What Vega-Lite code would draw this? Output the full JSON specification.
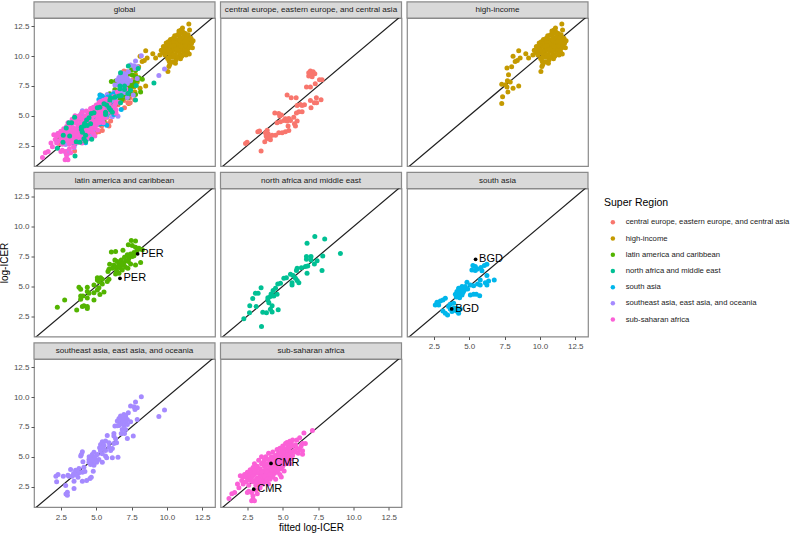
{"$schema":"https://vega.github.io/schema/vega-lite/v6.json","padding":{"left":-2,"top":0,"right":0,"bottom":0},"background":"white","bounds":"flush","columns":3,"spacing":{"row":22.5,"column":5.5},
"config":{"view":{"stroke":"#8a8a8a","strokeWidth":1.2,"fill":"white"},"range":{"category":["#F8766D","#C49A00","#53B400","#00C094","#00B6EB","#A58AFF","#FB61D7"]},"axis":{"domain":false,"grid":true,"gridColor":"#e6e6e6","gridWidth":1,"tickColor":"#555555","tickSize":3,"labelFont":"Liberation Sans","labelFontSize":8,"labelColor":"#4d4d4d","titleFont":"Liberation Sans","titleFontWeight":"normal","titleFontSize":10,"titleColor":"#000000","titlePadding":4,"labelPadding":2},"axisX":{"labelPadding":3,"titlePadding":1},"legend":{"orient":"none","legendX":570,"legendY":180,"titleFont":"Liberation Sans","titleFontWeight":"normal","titleFontSize":10.5,"titleColor":"#000000","titlePadding":10,"labelFont":"Liberation Sans","labelFontSize":7.7,"labelColor":"#1a1a1a","labelLimit":400,"symbolType":"circle","symbolSize":20,"symbolOffset":5,"rowPadding":7.2,"labelOffset":9},"text":{"font":"Liberation Sans"}},
"datasets":{
"diag":[{"v":0},{"v":14}],
"central":[{"x":6.96,"y":8.75},{"x":7.15,"y":8.69},{"x":6.84,"y":8.61},{"x":7.27,"y":8.53},{"x":7.0,"y":8.41},{"x":6.84,"y":8.33},{"x":7.08,"y":8.27},{"x":6.96,"y":8.53},{"x":7.6,"y":8.02},{"x":7.78,"y":8.02},{"x":7.3,"y":7.69},{"x":6.68,"y":7.4},{"x":6.96,"y":7.4},{"x":5.31,"y":6.73},{"x":5.6,"y":6.5},{"x":5.95,"y":6.5},{"x":7.38,"y":6.5},{"x":6.96,"y":6.28},{"x":7.71,"y":6.34},{"x":7.24,"y":6.09},{"x":7.4,"y":6.09},{"x":7.0,"y":5.67},{"x":6.02,"y":5.86},{"x":6.25,"y":5.95},{"x":6.54,"y":5.92},{"x":6.37,"y":5.86},{"x":6.14,"y":5.33},{"x":6.37,"y":5.33},{"x":5.97,"y":5.22},{"x":4.44,"y":5.22},{"x":4.72,"y":5.19},{"x":4.91,"y":5.05},{"x":4.79,"y":4.97},{"x":5.78,"y":4.88},{"x":5.19,"y":4.74},{"x":5.43,"y":4.77},{"x":5.08,"y":4.6},{"x":4.84,"y":4.49},{"x":4.6,"y":4.41},{"x":5.31,"y":4.55},{"x":5.55,"y":4.6},{"x":6.02,"y":4.55},{"x":5.83,"y":4.32},{"x":5.9,"y":4.13},{"x":5.38,"y":4.13},{"x":3.24,"y":3.65},{"x":3.36,"y":3.71},{"x":5.43,"y":3.76},{"x":5.19,"y":3.65},{"x":4.96,"y":3.57},{"x":4.72,"y":3.57},{"x":4.49,"y":3.37},{"x":4.25,"y":3.37},{"x":3.9,"y":3.79},{"x":3.78,"y":3.57},{"x":3.97,"y":3.48},{"x":3.83,"y":3.29},{"x":4.09,"y":3.2},{"x":3.9,"y":3.09},{"x":3.73,"y":2.81},{"x":4.13,"y":2.98},{"x":2.48,"y":2.78},{"x":2.37,"y":2.67},{"x":3.47,"y":2.03}],
"high":[{"x":11.55,"y":12.7},{"x":11.1,"y":12.36},{"x":11.6,"y":12.2},{"x":8.5,"y":10.45},{"x":8.1,"y":10.0},{"x":9.0,"y":10.2},{"x":8.6,"y":9.84},{"x":8.25,"y":9.56},{"x":8.4,"y":9.64},{"x":8.0,"y":9.1},{"x":7.67,"y":9.0},{"x":9.2,"y":9.84},{"x":10.07,"y":8.72},{"x":10.14,"y":9.14},{"x":10.2,"y":9.3},{"x":10.6,"y":9.4},{"x":10.96,"y":9.78},{"x":11.58,"y":10.17},{"x":7.78,"y":8.44},{"x":7.7,"y":7.93},{"x":7.3,"y":7.65},{"x":7.57,"y":7.6},{"x":7.9,"y":7.82},{"x":7.67,"y":7.4},{"x":8.1,"y":7.3},{"x":8.5,"y":7.5},{"x":7.74,"y":7.0},{"x":7.36,"y":6.6},{"x":7.3,"y":6.03},{"x":9.5,"y":10.1},{"x":9.6,"y":10.5},{"x":9.7,"y":10.3},{"x":9.75,"y":10.8},{"x":9.85,"y":10.1},{"x":9.9,"y":10.6},{"x":9.95,"y":11.1},{"x":10.0,"y":10.3},{"x":10.0,"y":10.8},{"x":10.05,"y":9.8},{"x":10.1,"y":10.5},{"x":10.1,"y":11.2},{"x":10.15,"y":9.6},{"x":10.2,"y":10.1},{"x":10.2,"y":10.9},{"x":10.25,"y":11.4},{"x":10.3,"y":9.9},{"x":10.3,"y":10.5},{"x":10.35,"y":11.1},{"x":10.4,"y":9.5},{"x":10.4,"y":10.2},{"x":10.4,"y":10.8},{"x":10.45,"y":11.5},{"x":10.5,"y":9.9},{"x":10.5,"y":10.5},{"x":10.5,"y":11.2},{"x":10.55,"y":11.7},{"x":10.6,"y":10.1},{"x":10.6,"y":10.8},{"x":10.65,"y":11.4},{"x":10.65,"y":9.7},{"x":10.7,"y":10.4},{"x":10.7,"y":11.0},{"x":10.75,"y":11.8},{"x":10.8,"y":9.9},{"x":10.8,"y":10.7},{"x":10.8,"y":11.3},{"x":10.85,"y":12.1},{"x":10.9,"y":10.2},{"x":10.9,"y":10.9},{"x":10.9,"y":11.6},{"x":10.95,"y":11.9},{"x":11.0,"y":10.5},{"x":11.0,"y":11.2},{"x":11.0,"y":12.2},{"x":11.05,"y":10.0},{"x":11.1,"y":10.8},{"x":11.1,"y":11.5},{"x":11.15,"y":12.0},{"x":11.2,"y":10.3},{"x":11.2,"y":11.0},{"x":11.2,"y":11.7},{"x":11.25,"y":10.6},{"x":11.3,"y":11.3},{"x":11.3,"y":11.9},{"x":11.35,"y":10.1},{"x":11.4,"y":10.8},{"x":11.4,"y":11.5},{"x":11.45,"y":10.4},{"x":11.5,"y":11.1},{"x":11.5,"y":11.8},{"x":11.55,"y":10.7},{"x":11.6,"y":11.3},{"x":11.65,"y":10.9},{"x":11.7,"y":11.5},{"x":11.75,"y":11.1},{"x":11.85,"y":11.3},{"x":11.8,"y":10.7},{"x":10.3,"y":10.8},{"x":10.6,"y":11.1},{"x":10.8,"y":11.0},{"x":10.9,"y":11.3},{"x":11.1,"y":11.1},{"x":10.7,"y":10.6},{"x":10.5,"y":10.9},{"x":11.0,"y":10.8},{"x":11.3,"y":10.9},{"x":10.2,"y":10.4},{"x":10.0,"y":10.5},{"x":9.8,"y":10.5},{"x":11.25,"y":11.2},{"x":11.4,"y":11.2}],
"latin":[{"x":7.48,"y":8.83},{"x":7.78,"y":8.8},{"x":7.27,"y":8.47},{"x":7.55,"y":8.41},{"x":6.07,"y":7.88},{"x":6.37,"y":7.91},{"x":6.89,"y":8.02},{"x":7.78,"y":8.27},{"x":8.02,"y":8.19},{"x":8.26,"y":8.05},{"x":7.9,"y":8.0},{"x":7.67,"y":7.83},{"x":7.43,"y":7.71},{"x":7.2,"y":7.63},{"x":7.55,"y":7.49},{"x":7.31,"y":7.35},{"x":7.0,"y":7.43},{"x":6.77,"y":7.21},{"x":7.08,"y":7.13},{"x":6.49,"y":7.07},{"x":6.32,"y":7.21},{"x":5.95,"y":6.84},{"x":6.61,"y":6.87},{"x":6.91,"y":6.93},{"x":7.43,"y":6.87},{"x":7.78,"y":6.79},{"x":8.14,"y":6.98},{"x":6.25,"y":6.79},{"x":5.9,"y":6.42},{"x":6.14,"y":6.51},{"x":6.37,"y":6.59},{"x":6.72,"y":6.51},{"x":7.08,"y":6.59},{"x":5.83,"y":6.23},{"x":6.44,"y":6.31},{"x":6.84,"y":6.37},{"x":6.61,"y":6.09},{"x":6.37,"y":6.03},{"x":7.24,"y":6.51},{"x":6.96,"y":6.79},{"x":6.68,"y":6.7},{"x":7.27,"y":7.07},{"x":6.8,"y":6.85},{"x":6.54,"y":6.65},{"x":7.67,"y":7.55},{"x":5.08,"y":5.72},{"x":5.31,"y":5.72},{"x":5.43,"y":5.58},{"x":5.08,"y":5.53},{"x":5.19,"y":5.39},{"x":5.9,"y":5.58},{"x":5.78,"y":5.39},{"x":4.84,"y":5.11},{"x":5.43,"y":5.19},{"x":3.78,"y":4.91},{"x":3.9,"y":4.74},{"x":4.37,"y":4.91},{"x":4.37,"y":4.55},{"x":5.19,"y":4.88},{"x":5.08,"y":4.69},{"x":4.84,"y":4.46},{"x":5.55,"y":4.52},{"x":5.26,"y":4.3},{"x":3.9,"y":4.18},{"x":4.06,"y":4.18},{"x":3.9,"y":3.9},{"x":4.37,"y":4.02},{"x":4.49,"y":4.41},{"x":4.84,"y":3.85},{"x":2.77,"y":3.85},{"x":2.25,"y":3.23},{"x":3.62,"y":3.0},{"x":4.02,"y":3.29},{"x":4.13,"y":3.37},{"x":4.37,"y":3.29},{"x":4.37,"y":3.12}],
"nafrica":[{"x":7.27,"y":9.17},{"x":7.97,"y":8.97},{"x":6.72,"y":8.61},{"x":9.08,"y":7.74},{"x":6.68,"y":7.49},{"x":7.0,"y":7.49},{"x":6.68,"y":7.26},{"x":7.0,"y":7.21},{"x":7.83,"y":7.54},{"x":7.43,"y":7.13},{"x":7.24,"y":6.87},{"x":6.77,"y":6.7},{"x":6.61,"y":6.65},{"x":6.32,"y":6.54},{"x":6.02,"y":6.51},{"x":5.97,"y":6.31},{"x":7.78,"y":6.31},{"x":6.72,"y":6.09},{"x":5.74,"y":5.89},{"x":5.55,"y":6.0},{"x":5.26,"y":5.72},{"x":5.08,"y":5.67},{"x":5.9,"y":5.67},{"x":5.66,"y":5.3},{"x":5.66,"y":5.11},{"x":6.02,"y":5.47},{"x":6.14,"y":5.3},{"x":4.84,"y":5.25},{"x":4.65,"y":5.19},{"x":4.49,"y":4.83},{"x":4.32,"y":4.63},{"x":4.18,"y":4.35},{"x":4.6,"y":4.32},{"x":4.37,"y":4.18},{"x":4.13,"y":4.13},{"x":3.47,"y":4.88},{"x":3.07,"y":4.41},{"x":3.26,"y":4.41},{"x":2.88,"y":3.96},{"x":3.95,"y":4.04},{"x":4.02,"y":3.62},{"x":3.95,"y":3.85},{"x":3.12,"y":3.29},{"x":2.67,"y":3.37},{"x":4.25,"y":3.37},{"x":4.68,"y":3.03},{"x":4.13,"y":3.06},{"x":4.25,"y":2.84},{"x":3.85,"y":2.78},{"x":3.59,"y":2.81},{"x":2.65,"y":2.78},{"x":2.25,"y":2.28},{"x":3.5,"y":1.61}],
"sasia":[{"x":5.26,"y":6.73},{"x":5.43,"y":6.65},{"x":5.19,"y":6.37},{"x":5.43,"y":6.31},{"x":5.59,"y":6.45},{"x":5.83,"y":6.57},{"x":6.07,"y":6.73},{"x":6.25,"y":6.85},{"x":5.9,"y":6.29},{"x":6.25,"y":5.89},{"x":5.78,"y":5.53},{"x":6.37,"y":5.44},{"x":6.14,"y":5.3},{"x":6.77,"y":5.53},{"x":5.59,"y":5.19},{"x":6.25,"y":5.11},{"x":5.78,"y":5.11},{"x":4.84,"y":5.33},{"x":5.08,"y":5.11},{"x":5.31,"y":5.03},{"x":4.49,"y":4.97},{"x":4.72,"y":4.97},{"x":4.25,"y":4.83},{"x":4.49,"y":4.69},{"x":4.72,"y":4.74},{"x":4.89,"y":4.77},{"x":4.13,"y":4.55},{"x":4.32,"y":4.49},{"x":4.56,"y":4.47},{"x":4.02,"y":4.32},{"x":4.25,"y":4.27},{"x":4.49,"y":4.27},{"x":4.09,"y":4.1},{"x":4.32,"y":4.04},{"x":5.31,"y":4.32},{"x":5.08,"y":4.27},{"x":5.5,"y":4.32},{"x":5.74,"y":4.21},{"x":3.31,"y":3.99},{"x":3.14,"y":3.85},{"x":2.96,"y":3.76},{"x":2.72,"y":3.65},{"x":2.6,"y":3.43},{"x":2.84,"y":3.43},{"x":3.66,"y":3.48},{"x":3.9,"y":3.57},{"x":3.54,"y":3.29},{"x":4.13,"y":3.15},{"x":3.14,"y":2.92},{"x":3.31,"y":2.73},{"x":3.47,"y":2.59},{"x":3.78,"y":2.87},{"x":4.09,"y":2.92},{"x":4.25,"y":2.73},{"x":4.37,"y":3.09},{"x":3.9,"y":3.15},{"x":3.66,"y":3.09},{"x":4.6,"y":4.85},{"x":4.4,"y":4.6},{"x":4.2,"y":4.4},{"x":4.35,"y":4.75},{"x":4.6,"y":4.6}],
"seasia":[{"x":8.19,"y":10.03},{"x":7.78,"y":9.59},{"x":7.43,"y":9.25},{"x":7.67,"y":9.19},{"x":7.9,"y":9.11},{"x":7.74,"y":8.97},{"x":9.83,"y":8.91},{"x":9.43,"y":8.38},{"x":7.27,"y":8.69},{"x":6.96,"y":8.55},{"x":6.72,"y":8.41},{"x":7.08,"y":8.41},{"x":6.61,"y":8.21},{"x":6.84,"y":8.13},{"x":7.2,"y":8.13},{"x":7.9,"y":8.13},{"x":6.49,"y":7.99},{"x":6.77,"y":7.85},{"x":7.08,"y":7.93},{"x":7.43,"y":7.93},{"x":6.32,"y":7.57},{"x":6.61,"y":7.62},{"x":6.96,"y":7.62},{"x":7.2,"y":7.71},{"x":6.84,"y":7.29},{"x":7.08,"y":7.29},{"x":6.77,"y":6.95},{"x":7.0,"y":6.95},{"x":6.25,"y":6.95},{"x":5.78,"y":6.78},{"x":6.25,"y":6.73},{"x":7.62,"y":6.73},{"x":7.2,"y":6.53},{"x":6.37,"y":6.5},{"x":5.43,"y":6.25},{"x":5.66,"y":6.31},{"x":5.9,"y":6.17},{"x":6.25,"y":6.11},{"x":6.44,"y":6.17},{"x":5.31,"y":6.03},{"x":5.55,"y":5.97},{"x":5.9,"y":5.8},{"x":6.14,"y":5.69},{"x":5.24,"y":5.75},{"x":6.02,"y":5.52},{"x":5.66,"y":5.52},{"x":4.84,"y":5.38},{"x":4.02,"y":5.41},{"x":3.95,"y":5.19},{"x":3.9,"y":5.05},{"x":4.72,"y":5.19},{"x":5.08,"y":5.19},{"x":5.43,"y":5.24},{"x":5.66,"y":5.05},{"x":6.14,"y":4.91},{"x":6.54,"y":4.96},{"x":5.74,"y":4.91},{"x":4.72,"y":4.91},{"x":4.49,"y":4.77},{"x":4.91,"y":4.77},{"x":5.19,"y":4.77},{"x":4.06,"y":4.57},{"x":4.49,"y":4.54},{"x":4.72,"y":4.49},{"x":5.03,"y":4.54},{"x":5.43,"y":4.54},{"x":4.6,"y":4.35},{"x":4.84,"y":4.29},{"x":4.13,"y":4.12},{"x":3.78,"y":4.01},{"x":3.19,"y":3.93},{"x":3.54,"y":3.87},{"x":4.79,"y":3.79},{"x":4.02,"y":3.7},{"x":3.78,"y":3.65},{"x":3.54,"y":3.51},{"x":3.31,"y":3.37},{"x":3.07,"y":3.37},{"x":2.67,"y":3.37},{"x":2.3,"y":3.51},{"x":2.15,"y":3.37},{"x":2.2,"y":2.89},{"x":3.43,"y":2.95},{"x":3.71,"y":3.28},{"x":4.02,"y":2.95},{"x":4.32,"y":3.0},{"x":4.56,"y":3.17},{"x":4.65,"y":3.28},{"x":2.84,"y":2.58},{"x":3.43,"y":2.33},{"x":2.96,"y":2.02},{"x":2.96,"y":1.77},{"x":2.86,"y":1.88},{"x":6.5,"y":7.6},{"x":6.7,"y":7.75},{"x":6.9,"y":8.0},{"x":7.0,"y":8.2},{"x":5.5,"y":5.7},{"x":5.3,"y":5.5},{"x":4.9,"y":4.95},{"x":4.7,"y":4.7},{"x":4.5,"y":5.0},{"x":3.4,"y":3.6},{"x":3.0,"y":3.45},{"x":4.2,"y":3.75}],
"ssa":[{"x":1.2,"y":1.5},{"x":1.4,"y":1.9},{"x":1.6,"y":2.0},{"x":1.8,"y":2.7},{"x":1.9,"y":2.4},{"x":2.0,"y":3.4},{"x":2.1,"y":3.0},{"x":2.2,"y":2.7},{"x":2.3,"y":3.5},{"x":2.2,"y":3.3},{"x":2.4,"y":2.9},{"x":2.5,"y":3.2},{"x":2.5,"y":3.7},{"x":2.6,"y":2.6},{"x":2.6,"y":3.4},{"x":2.7,"y":3.9},{"x":2.7,"y":3.0},{"x":2.8,"y":1.3},{"x":2.9,"y":1.4},{"x":3.0,"y":1.3},{"x":2.9,"y":1.7},{"x":3.2,"y":1.9},{"x":3.1,"y":2.2},{"x":2.8,"y":2.0},{"x":2.6,"y":2.1},{"x":2.5,"y":2.0},{"x":2.8,"y":3.3},{"x":2.8,"y":3.7},{"x":2.9,"y":2.9},{"x":2.9,"y":4.1},{"x":3.0,"y":3.5},{"x":3.0,"y":3.0},{"x":3.0,"y":4.4},{"x":3.1,"y":2.6},{"x":3.1,"y":3.9},{"x":3.2,"y":3.2},{"x":3.2,"y":4.2},{"x":3.3,"y":2.8},{"x":3.3,"y":3.6},{"x":3.3,"y":4.7},{"x":3.4,"y":3.0},{"x":3.4,"y":4.0},{"x":3.4,"y":2.4},{"x":3.5,"y":3.4},{"x":3.5,"y":4.4},{"x":3.5,"y":5.0},{"x":3.6,"y":2.7},{"x":3.6,"y":3.8},{"x":3.6,"y":3.1},{"x":3.7,"y":4.2},{"x":3.7,"y":4.7},{"x":3.7,"y":2.9},{"x":3.8,"y":3.3},{"x":3.8,"y":3.6},{"x":3.8,"y":4.0},{"x":3.8,"y":5.0},{"x":3.9,"y":3.0},{"x":3.9,"y":4.4},{"x":3.9,"y":4.8},{"x":4.0,"y":3.4},{"x":4.0,"y":3.8},{"x":4.0,"y":5.3},{"x":4.0,"y":2.7},{"x":4.1,"y":4.1},{"x":4.1,"y":4.6},{"x":4.1,"y":3.1},{"x":4.2,"y":3.6},{"x":4.2,"y":5.0},{"x":4.2,"y":4.3},{"x":4.3,"y":3.9},{"x":4.3,"y":3.3},{"x":4.3,"y":5.4},{"x":4.4,"y":4.7},{"x":4.4,"y":4.1},{"x":4.4,"y":3.6},{"x":4.5,"y":5.1},{"x":4.5,"y":4.4},{"x":4.5,"y":3.1},{"x":4.6,"y":5.6},{"x":4.6,"y":4.0},{"x":4.6,"y":3.7},{"x":4.7,"y":4.8},{"x":4.7,"y":5.3},{"x":4.7,"y":4.2},{"x":4.8,"y":3.5},{"x":4.8,"y":4.5},{"x":4.8,"y":5.7},{"x":4.8,"y":5.0},{"x":4.9,"y":4.0},{"x":4.9,"y":5.4},{"x":4.9,"y":3.3},{"x":5.0,"y":4.6},{"x":5.0,"y":5.1},{"x":5.0,"y":5.9},{"x":5.0,"y":4.2},{"x":5.1,"y":5.6},{"x":5.1,"y":3.8},{"x":5.1,"y":4.9},{"x":5.2,"y":6.1},{"x":5.2,"y":5.3},{"x":5.2,"y":4.4},{"x":5.3,"y":5.7},{"x":5.3,"y":4.7},{"x":5.3,"y":6.2},{"x":5.4,"y":5.0},{"x":5.4,"y":5.5},{"x":5.4,"y":6.0},{"x":5.5,"y":4.4},{"x":5.5,"y":5.8},{"x":5.5,"y":5.2},{"x":5.6,"y":6.2},{"x":5.6,"y":5.4},{"x":5.6,"y":4.8},{"x":5.7,"y":5.9},{"x":5.7,"y":6.4},{"x":5.7,"y":5.1},{"x":5.8,"y":5.5},{"x":5.9,"y":6.0},{"x":6.0,"y":6.4},{"x":5.9,"y":5.4},{"x":6.0,"y":5.7},{"x":6.1,"y":5.3},{"x":6.2,"y":5.6},{"x":6.3,"y":5.9},{"x":6.4,"y":5.5},{"x":6.4,"y":6.1},{"x":6.5,"y":7.0},{"x":6.4,"y":5.2},{"x":6.6,"y":6.1},{"x":7.1,"y":7.2},{"x":6.2,"y":6.6},{"x":5.5,"y":6.3},{"x":3.2,"y":3.7},{"x":3.4,"y":3.3},{"x":3.6,"y":4.5},{"x":3.9,"y":3.7},{"x":4.1,"y":3.5},{"x":4.3,"y":4.4},{"x":4.5,"y":3.9},{"x":4.7,"y":3.9},{"x":4.9,"y":4.5},{"x":5.1,"y":4.4},{"x":5.3,"y":5.1},{"x":3.0,"y":3.8},{"x":3.2,"y":2.9},{"x":3.5,"y":2.9},{"x":3.7,"y":3.4},{"x":4.0,"y":4.3},{"x":4.2,"y":4.8},{"x":4.4,"y":5.0},{"x":4.6,"y":4.5},{"x":4.8,"y":4.1},{"x":5.0,"y":5.4},{"x":2.4,"y":3.4},{"x":2.7,"y":3.5},{"x":2.9,"y":3.4},{"x":3.3,"y":3.1},{"x":3.5,"y":3.7}],
"per":[{"x":7.93,"y":7.71,"code":"PER"},{"x":6.68,"y":5.66,"code":"PER"}],
"bgd":[{"x":5.45,"y":7.26,"code":"BGD"},{"x":3.76,"y":3.09,"code":"BGD"}],
"cmr":[{"x":4.17,"y":4.44,"code":"CMR"},{"x":2.95,"y":2.28,"code":"CMR"}]
},
"concat":[
{"width":181,"height":148,"resolve":{"axis":{"x":"independent","y":"independent"}},"layer":[
{"data":{"values":[{"label":"global"}]},"mark":{"type":"rect","fill":"#d9d9d9","stroke":"#8a8a8a","strokeWidth":1.2,"clip":false},"encoding":{"x":{"datum":0.6,"type":"quantitative","scale":{"domain":[0.6,13.4]},"axis":null},"x2":{"datum":13.4},"y":{"datum":13.2,"type":"quantitative","scale":{"domain":[0.78,13.2]},"axis":null},"y2":{"datum":14.55}}},
{"data":{"values":[{"label":"global"}]},"mark":{"type":"text","fontSize":8.1,"color":"#1a1a1a","clip":false},"encoding":{"x":{"datum":7,"type":"quantitative","scale":{"domain":[0.6,13.4]},"axis":null},"y":{"datum":13.87,"type":"quantitative","scale":{"domain":[0.78,13.2]},"axis":null},"text":{"field":"label"}}},
{"data":{"name":"diag"},"mark":{"type":"line","opacity":0},"encoding":{"x":{"field":"v","type":"quantitative","scale":{"domain":[0.6,13.4]},"axis":{"orient":"bottom","values":[1.25,3.75,6.25,8.75,11.25],"labels":false,"ticks":false,"title":null,"gridWidth":0.5}},"y":{"field":"v","type":"quantitative","scale":{"domain":[0.78,13.2]},"axis":{"orient":"left","values":[1.25,3.75,6.25,8.75,11.25],"labels":false,"ticks":false,"title":null,"gridWidth":0.5}}}},
{"data":{"name":"diag"},"mark":{"type":"line","color":"#1f1f1f","strokeWidth":1.2,"clip":true},"encoding":{"x":{"field":"v","type":"quantitative","scale":{"domain":[0.6,13.4]},"axis":{"orient":"bottom","values":[2.5,5,7.5,10,12.5],"labels":false,"ticks":false,"title":null}},"y":{"field":"v","type":"quantitative","scale":{"domain":[0.78,13.2]},"axis":{"orient":"left","values":[2.5,5,7.5,10,12.5],"format":".1f","title":null}}}},
{"data":{"name":"high"},"mark":{"type":"circle","size":25,"opacity":1},"encoding":{"x":{"field":"x","type":"quantitative","scale":{"domain":[0.6,13.4]},"axis":null},"y":{"field":"y","type":"quantitative","scale":{"domain":[0.78,13.2]},"axis":null},"color":{"datum":"high-income","type":"nominal","title":"Super Region","scale":{"domain":["central europe, eastern europe, and central asia","high-income","latin america and caribbean","north africa and middle east","south asia","southeast asia, east asia, and oceania","sub-saharan africa"]}}}},
{"data":{"name":"central"},"mark":{"type":"circle","size":25,"opacity":1},"encoding":{"x":{"field":"x","type":"quantitative","scale":{"domain":[0.6,13.4]},"axis":null},"y":{"field":"y","type":"quantitative","scale":{"domain":[0.78,13.2]},"axis":null},"color":{"datum":"central europe, eastern europe, and central asia","type":"nominal"}}},
{"data":{"name":"latin"},"mark":{"type":"circle","size":25,"opacity":1},"encoding":{"x":{"field":"x","type":"quantitative","scale":{"domain":[0.6,13.4]},"axis":null},"y":{"field":"y","type":"quantitative","scale":{"domain":[0.78,13.2]},"axis":null},"color":{"datum":"latin america and caribbean","type":"nominal"}}},
{"data":{"name":"seasia"},"mark":{"type":"circle","size":25,"opacity":1},"encoding":{"x":{"field":"x","type":"quantitative","scale":{"domain":[0.6,13.4]},"axis":null},"y":{"field":"y","type":"quantitative","scale":{"domain":[0.78,13.2]},"axis":null},"color":{"datum":"southeast asia, east asia, and oceania","type":"nominal"}}},
{"data":{"name":"sasia"},"mark":{"type":"circle","size":25,"opacity":1},"encoding":{"x":{"field":"x","type":"quantitative","scale":{"domain":[0.6,13.4]},"axis":null},"y":{"field":"y","type":"quantitative","scale":{"domain":[0.78,13.2]},"axis":null},"color":{"datum":"south asia","type":"nominal"}}},
{"data":{"name":"ssa"},"mark":{"type":"circle","size":25,"opacity":1},"encoding":{"x":{"field":"x","type":"quantitative","scale":{"domain":[0.6,13.4]},"axis":null},"y":{"field":"y","type":"quantitative","scale":{"domain":[0.78,13.2]},"axis":null},"color":{"datum":"sub-saharan africa","type":"nominal"}}},
{"data":{"name":"nafrica"},"mark":{"type":"circle","size":25,"opacity":1},"encoding":{"x":{"field":"x","type":"quantitative","scale":{"domain":[0.6,13.4]},"axis":null},"y":{"field":"y","type":"quantitative","scale":{"domain":[0.78,13.2]},"axis":null},"color":{"datum":"north africa and middle east","type":"nominal"}}}
]},
{"width":181,"height":148,"resolve":{"axis":{"x":"independent","y":"independent"}},"layer":[
{"data":{"values":[{"label":"central europe, eastern europe, and central asia"}]},"mark":{"type":"rect","fill":"#d9d9d9","stroke":"#8a8a8a","strokeWidth":1.2,"clip":false},"encoding":{"x":{"datum":0.6,"type":"quantitative","scale":{"domain":[0.6,13.4]},"axis":null},"x2":{"datum":13.4},"y":{"datum":13.2,"type":"quantitative","scale":{"domain":[0.78,13.2]},"axis":null},"y2":{"datum":14.55}}},
{"data":{"values":[{"label":"central europe, eastern europe, and central asia"}]},"mark":{"type":"text","fontSize":8.1,"color":"#1a1a1a","clip":false},"encoding":{"x":{"datum":7,"type":"quantitative","scale":{"domain":[0.6,13.4]},"axis":null},"y":{"datum":13.87,"type":"quantitative","scale":{"domain":[0.78,13.2]},"axis":null},"text":{"field":"label"}}},
{"data":{"name":"diag"},"mark":{"type":"line","opacity":0},"encoding":{"x":{"field":"v","type":"quantitative","scale":{"domain":[0.6,13.4]},"axis":{"orient":"bottom","values":[1.25,3.75,6.25,8.75,11.25],"labels":false,"ticks":false,"title":null,"gridWidth":0.5}},"y":{"field":"v","type":"quantitative","scale":{"domain":[0.78,13.2]},"axis":{"orient":"left","values":[1.25,3.75,6.25,8.75,11.25],"labels":false,"ticks":false,"title":null,"gridWidth":0.5}}}},
{"data":{"name":"diag"},"mark":{"type":"line","color":"#1f1f1f","strokeWidth":1.2,"clip":true},"encoding":{"x":{"field":"v","type":"quantitative","scale":{"domain":[0.6,13.4]},"axis":{"orient":"bottom","values":[2.5,5,7.5,10,12.5],"labels":false,"ticks":false,"title":null}},"y":{"field":"v","type":"quantitative","scale":{"domain":[0.78,13.2]},"axis":{"orient":"left","values":[2.5,5,7.5,10,12.5],"labels":false,"ticks":false,"title":null}}}},
{"data":{"name":"central"},"mark":{"type":"circle","size":25,"opacity":1},"encoding":{"x":{"field":"x","type":"quantitative","scale":{"domain":[0.6,13.4]},"axis":null},"y":{"field":"y","type":"quantitative","scale":{"domain":[0.78,13.2]},"axis":null},"color":{"datum":"central europe, eastern europe, and central asia","type":"nominal"}}}
]},
{"width":181,"height":148,"resolve":{"axis":{"x":"independent","y":"independent"}},"layer":[
{"data":{"values":[{"label":"high-income"}]},"mark":{"type":"rect","fill":"#d9d9d9","stroke":"#8a8a8a","strokeWidth":1.2,"clip":false},"encoding":{"x":{"datum":0.6,"type":"quantitative","scale":{"domain":[0.6,13.4]},"axis":null},"x2":{"datum":13.4},"y":{"datum":13.2,"type":"quantitative","scale":{"domain":[0.78,13.2]},"axis":null},"y2":{"datum":14.55}}},
{"data":{"values":[{"label":"high-income"}]},"mark":{"type":"text","fontSize":8.1,"color":"#1a1a1a","clip":false},"encoding":{"x":{"datum":7,"type":"quantitative","scale":{"domain":[0.6,13.4]},"axis":null},"y":{"datum":13.87,"type":"quantitative","scale":{"domain":[0.78,13.2]},"axis":null},"text":{"field":"label"}}},
{"data":{"name":"diag"},"mark":{"type":"line","opacity":0},"encoding":{"x":{"field":"v","type":"quantitative","scale":{"domain":[0.6,13.4]},"axis":{"orient":"bottom","values":[1.25,3.75,6.25,8.75,11.25],"labels":false,"ticks":false,"title":null,"gridWidth":0.5}},"y":{"field":"v","type":"quantitative","scale":{"domain":[0.78,13.2]},"axis":{"orient":"left","values":[1.25,3.75,6.25,8.75,11.25],"labels":false,"ticks":false,"title":null,"gridWidth":0.5}}}},
{"data":{"name":"diag"},"mark":{"type":"line","color":"#1f1f1f","strokeWidth":1.2,"clip":true},"encoding":{"x":{"field":"v","type":"quantitative","scale":{"domain":[0.6,13.4]},"axis":{"orient":"bottom","values":[2.5,5,7.5,10,12.5],"labels":false,"ticks":false,"title":null}},"y":{"field":"v","type":"quantitative","scale":{"domain":[0.78,13.2]},"axis":{"orient":"left","values":[2.5,5,7.5,10,12.5],"labels":false,"ticks":false,"title":null}}}},
{"data":{"name":"high"},"mark":{"type":"circle","size":25,"opacity":1},"encoding":{"x":{"field":"x","type":"quantitative","scale":{"domain":[0.6,13.4]},"axis":null},"y":{"field":"y","type":"quantitative","scale":{"domain":[0.78,13.2]},"axis":null},"color":{"datum":"high-income","type":"nominal"}}}
]},
{"width":181,"height":148,"resolve":{"axis":{"x":"independent","y":"independent"}},"layer":[
{"data":{"values":[{"label":"latin america and caribbean"}]},"mark":{"type":"rect","fill":"#d9d9d9","stroke":"#8a8a8a","strokeWidth":1.2,"clip":false},"encoding":{"x":{"datum":0.6,"type":"quantitative","scale":{"domain":[0.6,13.4]},"axis":null},"x2":{"datum":13.4},"y":{"datum":13.2,"type":"quantitative","scale":{"domain":[0.78,13.2]},"axis":null},"y2":{"datum":14.55}}},
{"data":{"values":[{"label":"latin america and caribbean"}]},"mark":{"type":"text","fontSize":8.1,"color":"#1a1a1a","clip":false},"encoding":{"x":{"datum":7,"type":"quantitative","scale":{"domain":[0.6,13.4]},"axis":null},"y":{"datum":13.87,"type":"quantitative","scale":{"domain":[0.78,13.2]},"axis":null},"text":{"field":"label"}}},
{"data":{"name":"diag"},"mark":{"type":"line","opacity":0},"encoding":{"x":{"field":"v","type":"quantitative","scale":{"domain":[0.6,13.4]},"axis":{"orient":"bottom","values":[1.25,3.75,6.25,8.75,11.25],"labels":false,"ticks":false,"title":null,"gridWidth":0.5}},"y":{"field":"v","type":"quantitative","scale":{"domain":[0.78,13.2]},"axis":{"orient":"left","values":[1.25,3.75,6.25,8.75,11.25],"labels":false,"ticks":false,"title":null,"gridWidth":0.5}}}},
{"data":{"name":"diag"},"mark":{"type":"line","color":"#1f1f1f","strokeWidth":1.2,"clip":true},"encoding":{"x":{"field":"v","type":"quantitative","scale":{"domain":[0.6,13.4]},"axis":{"orient":"bottom","values":[2.5,5,7.5,10,12.5],"labels":false,"ticks":false,"title":null}},"y":{"field":"v","type":"quantitative","scale":{"domain":[0.78,13.2]},"axis":{"orient":"left","values":[2.5,5,7.5,10,12.5],"format":".1f","title":"log-ICER"}}}},
{"data":{"name":"latin"},"mark":{"type":"circle","size":25,"opacity":1},"encoding":{"x":{"field":"x","type":"quantitative","scale":{"domain":[0.6,13.4]},"axis":null},"y":{"field":"y","type":"quantitative","scale":{"domain":[0.78,13.2]},"axis":null},"color":{"datum":"latin america and caribbean","type":"nominal"}}},
{"data":{"name":"per"},"mark":{"type":"circle","size":14,"opacity":1,"color":"#000000"},"encoding":{"x":{"field":"x","type":"quantitative","scale":{"domain":[0.6,13.4]},"axis":null},"y":{"field":"y","type":"quantitative","scale":{"domain":[0.78,13.2]},"axis":null}}},
{"data":{"name":"per"},"mark":{"type":"text","fontSize":11,"color":"#000000","align":"left","dx":3.5},"encoding":{"x":{"field":"x","type":"quantitative","scale":{"domain":[0.6,13.4]},"axis":null},"y":{"field":"y","type":"quantitative","scale":{"domain":[0.78,13.2]},"axis":null},"text":{"field":"code"}}}
]},
{"width":181,"height":148,"resolve":{"axis":{"x":"independent","y":"independent"}},"layer":[
{"data":{"values":[{"label":"north africa and middle east"}]},"mark":{"type":"rect","fill":"#d9d9d9","stroke":"#8a8a8a","strokeWidth":1.2,"clip":false},"encoding":{"x":{"datum":0.6,"type":"quantitative","scale":{"domain":[0.6,13.4]},"axis":null},"x2":{"datum":13.4},"y":{"datum":13.2,"type":"quantitative","scale":{"domain":[0.78,13.2]},"axis":null},"y2":{"datum":14.55}}},
{"data":{"values":[{"label":"north africa and middle east"}]},"mark":{"type":"text","fontSize":8.1,"color":"#1a1a1a","clip":false},"encoding":{"x":{"datum":7,"type":"quantitative","scale":{"domain":[0.6,13.4]},"axis":null},"y":{"datum":13.87,"type":"quantitative","scale":{"domain":[0.78,13.2]},"axis":null},"text":{"field":"label"}}},
{"data":{"name":"diag"},"mark":{"type":"line","opacity":0},"encoding":{"x":{"field":"v","type":"quantitative","scale":{"domain":[0.6,13.4]},"axis":{"orient":"bottom","values":[1.25,3.75,6.25,8.75,11.25],"labels":false,"ticks":false,"title":null,"gridWidth":0.5}},"y":{"field":"v","type":"quantitative","scale":{"domain":[0.78,13.2]},"axis":{"orient":"left","values":[1.25,3.75,6.25,8.75,11.25],"labels":false,"ticks":false,"title":null,"gridWidth":0.5}}}},
{"data":{"name":"diag"},"mark":{"type":"line","color":"#1f1f1f","strokeWidth":1.2,"clip":true},"encoding":{"x":{"field":"v","type":"quantitative","scale":{"domain":[0.6,13.4]},"axis":{"orient":"bottom","values":[2.5,5,7.5,10,12.5],"labels":false,"ticks":false,"title":null}},"y":{"field":"v","type":"quantitative","scale":{"domain":[0.78,13.2]},"axis":{"orient":"left","values":[2.5,5,7.5,10,12.5],"labels":false,"ticks":false,"title":null}}}},
{"data":{"name":"nafrica"},"mark":{"type":"circle","size":25,"opacity":1},"encoding":{"x":{"field":"x","type":"quantitative","scale":{"domain":[0.6,13.4]},"axis":null},"y":{"field":"y","type":"quantitative","scale":{"domain":[0.78,13.2]},"axis":null},"color":{"datum":"north africa and middle east","type":"nominal"}}}
]},
{"width":181,"height":148,"resolve":{"axis":{"x":"independent","y":"independent"}},"layer":[
{"data":{"values":[{"label":"south asia"}]},"mark":{"type":"rect","fill":"#d9d9d9","stroke":"#8a8a8a","strokeWidth":1.2,"clip":false},"encoding":{"x":{"datum":0.6,"type":"quantitative","scale":{"domain":[0.6,13.4]},"axis":null},"x2":{"datum":13.4},"y":{"datum":13.2,"type":"quantitative","scale":{"domain":[0.78,13.2]},"axis":null},"y2":{"datum":14.55}}},
{"data":{"values":[{"label":"south asia"}]},"mark":{"type":"text","fontSize":8.1,"color":"#1a1a1a","clip":false},"encoding":{"x":{"datum":7,"type":"quantitative","scale":{"domain":[0.6,13.4]},"axis":null},"y":{"datum":13.87,"type":"quantitative","scale":{"domain":[0.78,13.2]},"axis":null},"text":{"field":"label"}}},
{"data":{"name":"diag"},"mark":{"type":"line","opacity":0},"encoding":{"x":{"field":"v","type":"quantitative","scale":{"domain":[0.6,13.4]},"axis":{"orient":"bottom","values":[1.25,3.75,6.25,8.75,11.25],"labels":false,"ticks":false,"title":null,"gridWidth":0.5}},"y":{"field":"v","type":"quantitative","scale":{"domain":[0.78,13.2]},"axis":{"orient":"left","values":[1.25,3.75,6.25,8.75,11.25],"labels":false,"ticks":false,"title":null,"gridWidth":0.5}}}},
{"data":{"name":"diag"},"mark":{"type":"line","color":"#1f1f1f","strokeWidth":1.2,"clip":true},"encoding":{"x":{"field":"v","type":"quantitative","scale":{"domain":[0.6,13.4]},"axis":{"orient":"bottom","values":[2.5,5,7.5,10,12.5],"format":".1f","title":null}},"y":{"field":"v","type":"quantitative","scale":{"domain":[0.78,13.2]},"axis":{"orient":"left","values":[2.5,5,7.5,10,12.5],"labels":false,"ticks":false,"title":null}}}},
{"data":{"name":"sasia"},"mark":{"type":"circle","size":25,"opacity":1},"encoding":{"x":{"field":"x","type":"quantitative","scale":{"domain":[0.6,13.4]},"axis":null},"y":{"field":"y","type":"quantitative","scale":{"domain":[0.78,13.2]},"axis":null},"color":{"datum":"south asia","type":"nominal"}}},
{"data":{"name":"bgd"},"mark":{"type":"circle","size":14,"opacity":1,"color":"#000000"},"encoding":{"x":{"field":"x","type":"quantitative","scale":{"domain":[0.6,13.4]},"axis":null},"y":{"field":"y","type":"quantitative","scale":{"domain":[0.78,13.2]},"axis":null}}},
{"data":{"name":"bgd"},"mark":{"type":"text","fontSize":11,"color":"#000000","align":"left","dx":3.5},"encoding":{"x":{"field":"x","type":"quantitative","scale":{"domain":[0.6,13.4]},"axis":null},"y":{"field":"y","type":"quantitative","scale":{"domain":[0.78,13.2]},"axis":null},"text":{"field":"code"}}}
]},
{"width":181,"height":148,"resolve":{"axis":{"x":"independent","y":"independent"}},"layer":[
{"data":{"values":[{"label":"southeast asia, east asia, and oceania"}]},"mark":{"type":"rect","fill":"#d9d9d9","stroke":"#8a8a8a","strokeWidth":1.2,"clip":false},"encoding":{"x":{"datum":0.6,"type":"quantitative","scale":{"domain":[0.6,13.4]},"axis":null},"x2":{"datum":13.4},"y":{"datum":13.2,"type":"quantitative","scale":{"domain":[0.78,13.2]},"axis":null},"y2":{"datum":14.55}}},
{"data":{"values":[{"label":"southeast asia, east asia, and oceania"}]},"mark":{"type":"text","fontSize":8.1,"color":"#1a1a1a","clip":false},"encoding":{"x":{"datum":7,"type":"quantitative","scale":{"domain":[0.6,13.4]},"axis":null},"y":{"datum":13.87,"type":"quantitative","scale":{"domain":[0.78,13.2]},"axis":null},"text":{"field":"label"}}},
{"data":{"name":"diag"},"mark":{"type":"line","opacity":0},"encoding":{"x":{"field":"v","type":"quantitative","scale":{"domain":[0.6,13.4]},"axis":{"orient":"bottom","values":[1.25,3.75,6.25,8.75,11.25],"labels":false,"ticks":false,"title":null,"gridWidth":0.5}},"y":{"field":"v","type":"quantitative","scale":{"domain":[0.78,13.2]},"axis":{"orient":"left","values":[1.25,3.75,6.25,8.75,11.25],"labels":false,"ticks":false,"title":null,"gridWidth":0.5}}}},
{"data":{"name":"diag"},"mark":{"type":"line","color":"#1f1f1f","strokeWidth":1.2,"clip":true},"encoding":{"x":{"field":"v","type":"quantitative","scale":{"domain":[0.6,13.4]},"axis":{"orient":"bottom","values":[2.5,5,7.5,10,12.5],"format":".1f","title":null}},"y":{"field":"v","type":"quantitative","scale":{"domain":[0.78,13.2]},"axis":{"orient":"left","values":[2.5,5,7.5,10,12.5],"format":".1f","title":null}}}},
{"data":{"name":"seasia"},"mark":{"type":"circle","size":25,"opacity":1},"encoding":{"x":{"field":"x","type":"quantitative","scale":{"domain":[0.6,13.4]},"axis":null},"y":{"field":"y","type":"quantitative","scale":{"domain":[0.78,13.2]},"axis":null},"color":{"datum":"southeast asia, east asia, and oceania","type":"nominal"}}}
]},
{"width":181,"height":148,"resolve":{"axis":{"x":"independent","y":"independent"}},"layer":[
{"data":{"values":[{"label":"sub-saharan africa"}]},"mark":{"type":"rect","fill":"#d9d9d9","stroke":"#8a8a8a","strokeWidth":1.2,"clip":false},"encoding":{"x":{"datum":0.6,"type":"quantitative","scale":{"domain":[0.6,13.4]},"axis":null},"x2":{"datum":13.4},"y":{"datum":13.2,"type":"quantitative","scale":{"domain":[0.78,13.2]},"axis":null},"y2":{"datum":14.55}}},
{"data":{"values":[{"label":"sub-saharan africa"}]},"mark":{"type":"text","fontSize":8.1,"color":"#1a1a1a","clip":false},"encoding":{"x":{"datum":7,"type":"quantitative","scale":{"domain":[0.6,13.4]},"axis":null},"y":{"datum":13.87,"type":"quantitative","scale":{"domain":[0.78,13.2]},"axis":null},"text":{"field":"label"}}},
{"data":{"name":"diag"},"mark":{"type":"line","opacity":0},"encoding":{"x":{"field":"v","type":"quantitative","scale":{"domain":[0.6,13.4]},"axis":{"orient":"bottom","values":[1.25,3.75,6.25,8.75,11.25],"labels":false,"ticks":false,"title":null,"gridWidth":0.5}},"y":{"field":"v","type":"quantitative","scale":{"domain":[0.78,13.2]},"axis":{"orient":"left","values":[1.25,3.75,6.25,8.75,11.25],"labels":false,"ticks":false,"title":null,"gridWidth":0.5}}}},
{"data":{"name":"diag"},"mark":{"type":"line","color":"#1f1f1f","strokeWidth":1.2,"clip":true},"encoding":{"x":{"field":"v","type":"quantitative","scale":{"domain":[0.6,13.4]},"axis":{"orient":"bottom","values":[2.5,5,7.5,10,12.5],"format":".1f","title":"fitted log-ICER"}},"y":{"field":"v","type":"quantitative","scale":{"domain":[0.78,13.2]},"axis":{"orient":"left","values":[2.5,5,7.5,10,12.5],"labels":false,"ticks":false,"title":null}}}},
{"data":{"name":"ssa"},"mark":{"type":"circle","size":25,"opacity":1},"encoding":{"x":{"field":"x","type":"quantitative","scale":{"domain":[0.6,13.4]},"axis":null},"y":{"field":"y","type":"quantitative","scale":{"domain":[0.78,13.2]},"axis":null},"color":{"datum":"sub-saharan africa","type":"nominal"}}},
{"data":{"name":"cmr"},"mark":{"type":"circle","size":14,"opacity":1,"color":"#000000"},"encoding":{"x":{"field":"x","type":"quantitative","scale":{"domain":[0.6,13.4]},"axis":null},"y":{"field":"y","type":"quantitative","scale":{"domain":[0.78,13.2]},"axis":null}}},
{"data":{"name":"cmr"},"mark":{"type":"text","fontSize":11,"color":"#000000","align":"left","dx":3.5},"encoding":{"x":{"field":"x","type":"quantitative","scale":{"domain":[0.6,13.4]},"axis":null},"y":{"field":"y","type":"quantitative","scale":{"domain":[0.78,13.2]},"axis":null},"text":{"field":"code"}}}
]}
]}
